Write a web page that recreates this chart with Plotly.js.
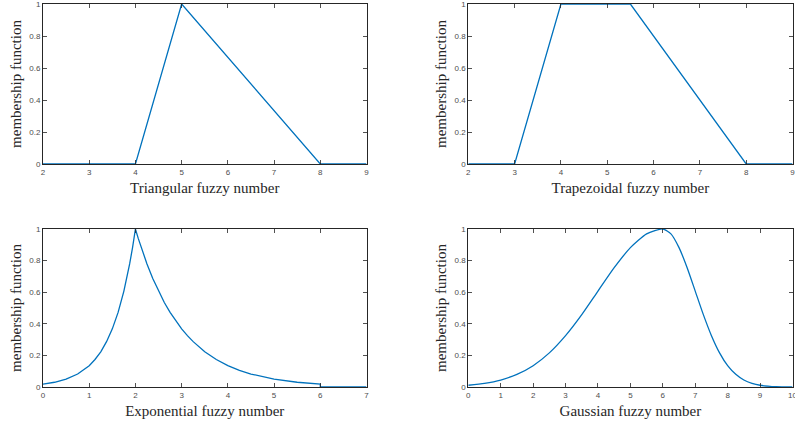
<!DOCTYPE html>
<html>
<head>
<meta charset="utf-8">
<script src="https://cdn.plot.ly/plotly-3.0.1.min.js"></script>
<style>html,body{margin:0;padding:0;background:#fff;}#chart{width:795px;height:430px;}</style>
</head>
<body>
<div id="chart"></div>
<script>
// Triangular fuzzy number
const triX = [2, 4, 5, 8, 9];
const triY = [0, 0, 1, 0, 0];
// Trapezoidal fuzzy number
const trapX = [2, 3, 4, 5.5, 8, 9];
const trapY = [0, 0, 1, 1, 0, 0];
// Exponential fuzzy number
const expX = [0, 0.25, 0.5, 0.75, 1, 1.125, 1.25, 1.375, 1.5, 1.625, 1.75, 1.8125, 1.875, 1.9375, 2,
              2.0625, 2.125, 2.1875, 2.25, 2.375, 2.5, 2.625, 2.75, 2.875, 3, 3.125, 3.25, 3.5, 3.75, 4, 4.25, 4.5, 4.75, 5, 5.5, 6, 6, 7];
const expY = [0.018, 0.030, 0.050, 0.082, 0.135, 0.174, 0.223, 0.287, 0.368, 0.472, 0.607, 0.687, 0.779, 0.882, 1,
              0.939, 0.882, 0.829, 0.779, 0.687, 0.607, 0.535, 0.472, 0.417, 0.368, 0.325, 0.287, 0.223, 0.174, 0.135, 0.105, 0.082, 0.064, 0.050, 0.030, 0.018, 0, 0];
// Gaussian fuzzy number
const gauX = [0, 0.5, 1, 1.5, 2, 2.5, 3, 3.5, 4, 4.5, 5, 5.5, 6, 6.25, 6.5, 6.75, 7, 7.25, 7.5, 7.75, 8, 8.25, 8.5, 8.75, 9, 9.5, 10];
const gauY = [0.011, 0.023, 0.044, 0.080, 0.135, 0.216, 0.325, 0.458, 0.607, 0.755, 0.882, 0.969, 1, 0.969, 0.882, 0.755, 0.607, 0.458, 0.325, 0.216, 0.135, 0.080, 0.044, 0.023, 0.011, 0.002, 0.0004];

const xTitles = ["Triangular fuzzy number", "Trapezoidal fuzzy number", "Exponential fuzzy number", "Gaussian fuzzy number"];
const yTitle = "membership function";
const xRanges = [[2, 9], [2, 9], [0, 7], [0, 10]];
const yTickVals = [0, 0.2, 0.4, 0.6, 0.8, 1];
const yTickText = ["0", "0.2", "0.4", "0.6", "0.8", "1"];

const lineStyle = {color: '#0072BD', width: 1.3};
const traces = [
  {x: triX, y: triY, xaxis: 'x', yaxis: 'y'},
  {x: trapX, y: trapY, xaxis: 'x2', yaxis: 'y2'},
  {x: expX, y: expY, xaxis: 'x3', yaxis: 'y3'},
  {x: gauX, y: gauY, xaxis: 'x4', yaxis: 'y4', line: {shape: 'spline', smoothing: 0.6, color: '#0072BD', width: 1.3}}
].map(t => Object.assign({type: 'scatter', mode: 'lines', line: lineStyle, showlegend: false, hoverinfo: 'none'}, t));

const W = 795, H = 430;
const colsPx = [[43, 366.5], [468.3, 792.5]];
const rowsPx = [[4, 164], [229, 387]];
function xd(c) { return [colsPx[c][0] / W, colsPx[c][1] / W]; }
function yd(r) { return [(H - rowsPx[r][1]) / H, (H - rowsPx[r][0]) / H]; }

const tickFont = {family: 'Liberation Sans, Arial, sans-serif', size: 8, color: '#4d4d4d'};
const titleFont = {family: 'Liberation Serif, Times New Roman, serif', size: 15, color: '#262626'};

function xAxis(i, c, r) {
  const xr = xRanges[i];
  const vals = [];
  for (let v = xr[0]; v <= xr[1]; v++) vals.push(v);
  return {
    domain: xd(c), anchor: 'y' + (i === 0 ? '' : i + 1), range: xr,
    tickmode: 'array', tickvals: vals, ticktext: vals.map(String),
    ticks: 'inside', ticklen: 4, tickwidth: 0.8, tickcolor: '#262626',
    showline: true, linecolor: '#262626', linewidth: 1, mirror: 'ticks',
    showgrid: false, zeroline: false, tickfont: tickFont, ticklabeloverflow: 'allow',
    title: {text: xTitles[i], font: titleFont, standoff: 6},
    automargin: false, fixedrange: true
  };
}
function yAxis(i, c, r) {
  return {
    domain: yd(r), anchor: 'x' + (i === 0 ? '' : i + 1), range: [0, 1],
    tickmode: 'array', tickvals: yTickVals, ticktext: yTickText,
    ticks: 'inside', ticklen: 4, tickwidth: 0.8, tickcolor: '#262626',
    showline: true, linecolor: '#262626', linewidth: 1, mirror: 'ticks',
    showgrid: false, zeroline: false, tickfont: tickFont, ticklabeloverflow: 'allow',
    title: {text: yTitle, font: titleFont, standoff: 4},
    automargin: false, fixedrange: true
  };
}

const layout = {
  width: W, height: H,
  margin: {l: 0, r: 0, t: 0, b: 0},
  paper_bgcolor: '#ffffff', plot_bgcolor: '#ffffff',
  showlegend: false
};
const pos = [[0, 0], [1, 0], [0, 1], [1, 1]];
pos.forEach((p, i) => {
  const s = i === 0 ? '' : (i + 1);
  layout['xaxis' + s] = xAxis(i, p[0], p[1]);
  layout['yaxis' + s] = yAxis(i, p[0], p[1]);
});

Plotly.newPlot('chart', traces, layout, {staticPlot: true, displayModeBar: false});
</script>
</body>
</html>
